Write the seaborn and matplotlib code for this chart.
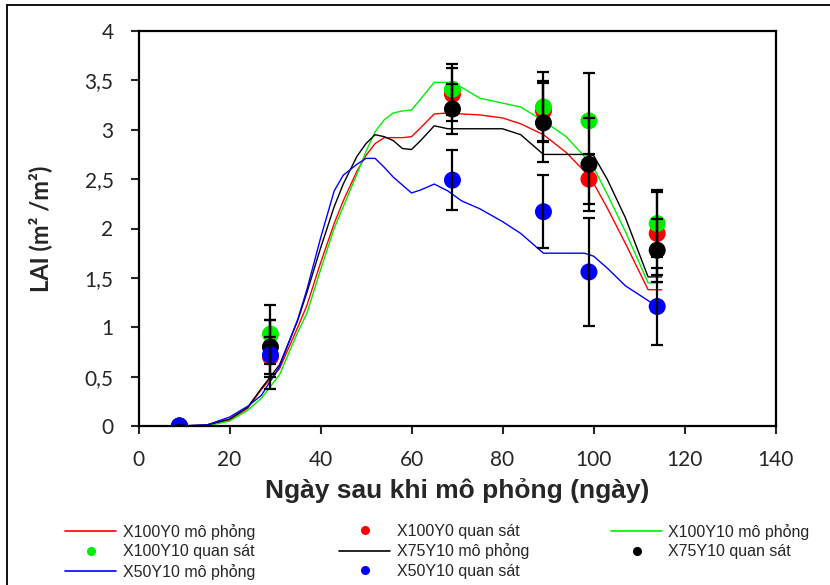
import numpy as np
import pandas as pd
import matplotlib
matplotlib.use("Agg")
import matplotlib.pyplot as plt
from matplotlib.lines import Line2D
import seaborn as sns

# ---- data -------------------------------------------------------------
sim_days = [9, 15, 20, 24, 27, 31, 35, 37, 40, 43, 45, 48, 50, 52, 54, 56, 58,
            60, 62, 65, 68, 71, 75, 80, 84, 89, 94, 98, 100, 103, 107, 112, 115]

sim_x100y0 = [0, 0.01, 0.06, 0.18, 0.37, 0.58, 1.00, 1.22, 1.65, 2.05, 2.28, 2.58,
              2.74, 2.86, 2.92, 2.92, 2.92, 2.93, 3.02, 3.16, 3.17, 3.16, 3.15,
              3.12, 3.06, 2.95, 2.77, 2.58, 2.46, 2.21, 1.85, 1.38, 1.38]
sim_x100y10 = [0, 0, 0.05, 0.16, 0.28, 0.52, 0.95, 1.14, 1.58, 2.00, 2.22, 2.55,
               2.78, 2.98, 3.10, 3.17, 3.19, 3.20, 3.31, 3.48, 3.48, 3.43, 3.32,
               3.27, 3.23, 3.09, 2.93, 2.73, 2.62, 2.35, 1.97, 1.45, 1.45]
sim_x75y10 = [0, 0.01, 0.07, 0.19, 0.38, 0.62, 1.07, 1.35, 1.80, 2.22, 2.45, 2.73,
              2.86, 2.95, 2.93, 2.89, 2.81, 2.80, 2.89, 3.04, 3.01, 3.01, 3.01,
              3.01, 2.95, 2.75, 2.75, 2.75, 2.74, 2.50, 2.11, 1.51, 1.51]
sim_x50y10 = [0, 0.01, 0.09, 0.20, 0.31, 0.60, 1.08, 1.38, 1.90, 2.38, 2.54, 2.65,
              2.71, 2.71, 2.62, 2.52, 2.44, 2.36, 2.39, 2.45, 2.38, 2.28, 2.20,
              2.07, 1.95, 1.75, 1.75, 1.75, 1.72, 1.60, 1.42, 1.27, 1.17]

obs_days = [9, 29, 69, 89, 99, 114]
obs_x100y0 = [0, 0.70, 3.36, 3.19, 2.50, 1.95]
obs_x100y10 = [0, 0.93, 3.41, 3.23, 3.09, 2.05]
obs_x75y10 = [0, 0.80, 3.21, 3.07, 2.65, 1.78]
obs_x50y10 = [0, 0.72, 2.49, 2.17, 1.56, 1.21]

err_x100y0 = [0, 0.20, 0.27, 0.30, 0.25, 0.42]
err_x100y10 = [0, 0.30, 0.26, 0.35, 0.48, 0.34]
err_x75y10 = [0, 0.27, 0.25, 0.40, 0.47, 0.32]
err_x50y10 = [0, 0.35, 0.30, 0.37, 0.55, 0.39]

series = ["X100Y0", "X100Y10", "X75Y10", "X50Y10"]
colors = {"X100Y0": "#ff0000", "X100Y10": "#00ee00",
          "X75Y10": "#000000", "X50Y10": "#0000ff"}

x_ticks = [0, 20, 40, 60, 80, 100, 120, 140]
y_ticks = [0, 0.5, 1, 1.5, 2, 2.5, 3, 3.5, 4]
y_tick_labels = ["0", "0,5", "1", "1,5", "2", "2,5", "3", "3,5", "4"]

# ---- long tables -------------------------------------------------------
sims = [sim_x100y0, sim_x100y10, sim_x75y10, sim_x50y10]
obss = [obs_x100y0, obs_x100y10, obs_x75y10, obs_x50y10]
errs = [err_x100y0, err_x100y10, err_x75y10, err_x50y10]

sim_df = pd.concat([pd.DataFrame({"day": sim_days, "lai": v, "nt": s})
                    for s, v in zip(series, sims)], ignore_index=True)
obs_df = pd.concat([pd.DataFrame({"day": obs_days, "lai": v, "err": e, "nt": s})
                    for s, v, e in zip(series, obss, errs)], ignore_index=True)

# ---- plot --------------------------------------------------------------
sns.set_style("ticks")
plt.rcParams["font.family"] = ["Lato", "DejaVu Sans"]

fig = plt.figure(figsize=(8.3, 5.85), dpi=100)
ax = fig.add_axes([138.5 / 830, 1 - 426 / 585, 637 / 830, 395 / 585])

sns.lineplot(data=sim_df, x="day", y="lai", hue="nt", palette=colors,
             hue_order=series, estimator=None, sort=False, lw=1.0,
             legend=False, ax=ax, zorder=2)
sns.scatterplot(data=obs_df, x="day", y="lai", hue="nt", palette=colors,
                hue_order=series, s=150, linewidth=0, legend=False,
                ax=ax, zorder=3)
ax.errorbar(obs_df["day"], obs_df["lai"], yerr=obs_df["err"], fmt="none",
            ecolor="black", elinewidth=1.6, capsize=4.5, capthick=1.6,
            zorder=4)

ax.set_xlim(0, 140)
ax.set_ylim(0, 4)
ax.set_xticks(x_ticks)
ax.set_yticks(y_ticks)
ax.set_yticklabels(y_tick_labels)
ax.tick_params(axis="both", direction="out", length=6, width=1.5, labelsize=15)
ax.tick_params(axis="x", pad=11)
ax.tick_params(axis="y", pad=12)
for sp in ax.spines.values():
    sp.set_visible(True)
    sp.set_linewidth(1.6)
    sp.set_color("black")

ax.set_xlabel("Ngày sau khi mô phỏng (ngày)", fontsize=19, fontweight="bold",
              family=["Liberation Sans", "DejaVu Sans"], labelpad=6)
ax.set_ylabel("LAI (m² /m²)", fontsize=17, fontweight="bold", labelpad=23)

# legend: three columns placed by hand, row-major order like the original
def line_h(c):
    return Line2D([], [], color=c, lw=1.2)

def dot_h(c):
    return Line2D([], [], color=c, marker="o", ls="none", markersize=5.5)

cols = [
    [(line_h(colors["X100Y0"]), "X100Y0 mô phỏng"),
     (dot_h(colors["X100Y10"]), "X100Y10 quan sát"),
     (line_h(colors["X50Y10"]), "X50Y10 mô phỏng")],
    [(dot_h(colors["X100Y0"]), "X100Y0 quan sát"),
     (line_h(colors["X75Y10"]), "X75Y10 mô phỏng"),
     (dot_h(colors["X50Y10"]), "X50Y10 quan sát")],
    [(line_h(colors["X100Y10"]), "X100Y10 mô phỏng"),
     (dot_h(colors["X75Y10"]), "X75Y10 quan sát")],
]
col_x = [65, 339, 611]
for cx, items in zip(col_x, cols):
    fig.legend([h for h, _ in items], [t for _, t in items],
               loc="upper left", bbox_to_anchor=(cx / 830, 1 - 524 / 585),
               frameon=False, borderpad=0, borderaxespad=0,
               handlelength=3.2, handletextpad=0.4, labelspacing=0.28,
               prop={"family": ["Liberation Sans", "DejaVu Sans"], "size": 11.5})

# outer frame (left and top edges visible)
fig.add_artist(Line2D([7 / 830, 7 / 830], [0, 1 - 5 / 585], color="black", lw=1.3,
                      transform=fig.transFigure))
fig.add_artist(Line2D([7 / 830, 1], [1 - 5 / 585, 1 - 5 / 585], color="black", lw=1.3,
                      transform=fig.transFigure))

fig.savefig("out.png", dpi=100)
